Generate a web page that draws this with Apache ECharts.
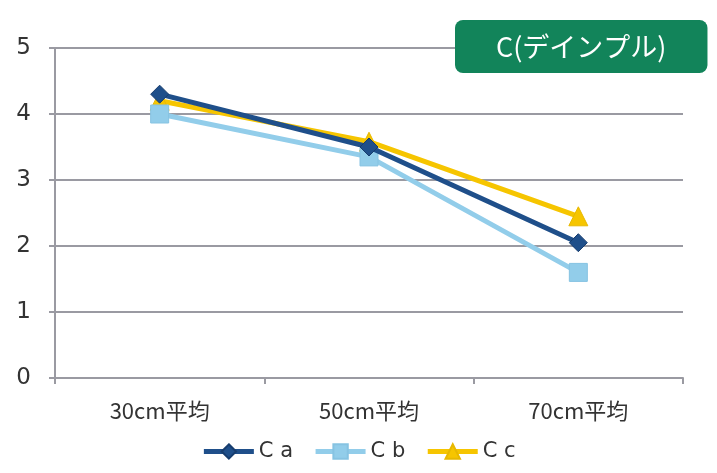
<!DOCTYPE html>
<html>
<head>
<meta charset="utf-8">
<script src="https://cdn.jsdelivr.net/npm/echarts@6/dist/echarts.min.js"></script>
<style>
  html, body { margin: 0; padding: 0; background: #fff; }
  #chart { width: 717px; height: 473px; }
</style>
</head>
<body>
<div id="chart"></div>
<script>
// Average values by depth
const categories = ['30cm平均', '50cm平均', '70cm平均'];
const seriesNames = ['C a', 'C b', 'C c'];
const valuesCa = [4.3, 3.5, 2.05];
const valuesCb = [4.0, 3.35, 1.6];
const valuesCc = [4.2, 3.58, 2.45];
const yTicks = [0, 1, 2, 3, 4, 5];

const colors = ['#1f4f8a', '#92cdea', '#f6c500'];
const borders = ['#173d6e', '#86c3e2', '#e7b800'];
const symbols = ['diamond', 'rect', 'triangle'];
const symbolSizes = [18, 18, 19];
const dataSets = [valuesCa, valuesCb, valuesCc];

const chart = echarts.init(document.getElementById('chart'));

chart.setOption({
  animation: false,
  title: {
    text: 'C(デインプル)',
    left: 455,
    top: 20,
    padding: [12, 41, 11, 41],
    backgroundColor: '#12845a',
    borderRadius: 8,
    textStyle: {
      color: '#ffffff',
      fontSize: 27,
      fontWeight: 'normal',
      fontFamily: 'Noto Sans CJK JP',
      lineHeight: 30
    },
    z: 10
  },
  legend: {
    bottom: 6,
    left: 'center',
    itemWidth: 50,
    itemHeight: 18,
    itemGap: 20,
    data: seriesNames,
    lineStyle: { width: 5 },
    textStyle: {
      color: '#333',
      fontSize: 21,
      fontFamily: 'DejaVu Sans'
    }
  },
  grid: {
    left: 55,
    right: 34,
    top: 48,
    bottom: 95
  },
  xAxis: {
    type: 'category',
    data: categories,
    boundaryGap: true,
    axisLine: { lineStyle: { color: '#9a9aa2', width: 2 } },
    axisTick: { show: true, length: 6, lineStyle: { color: '#9a9aa2', width: 2 } },
    axisLabel: {
      color: '#333',
      fontSize: 22,
      margin: 22,
      fontFamily: 'Noto Sans CJK JP'
    }
  },
  yAxis: {
    type: 'value',
    min: yTicks[0],
    max: yTicks[yTicks.length - 1],
    interval: 1,
    axisLine: { show: true, lineStyle: { color: '#9a9aa2', width: 2 } },
    axisTick: { show: true, length: 6, lineStyle: { color: '#9a9aa2', width: 2 } },
    splitLine: { lineStyle: { color: '#9a9aa2', width: 2 } },
    axisLabel: {
      color: '#333',
      fontSize: 23,
      margin: 24,
      fontFamily: 'DejaVu Sans'
    }
  },
  series: seriesNames.map((name, i) => ({
    name: name,
    type: 'line',
    data: dataSets[i],
    symbol: symbols[i],
    symbolSize: symbolSizes[i],
    showAllSymbol: true,
    lineStyle: { color: colors[i], width: 5 },
    itemStyle: { color: colors[i], borderColor: borders[i], borderWidth: 1 },
    z: 3 - i
  }))
});
</script>
</body>
</html>
